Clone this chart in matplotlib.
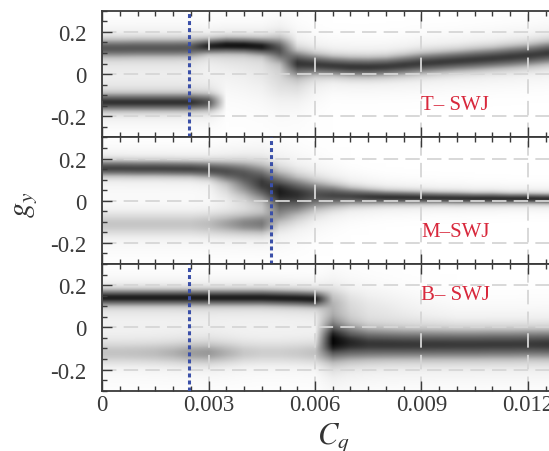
import numpy as np
import matplotlib.pyplot as plt
from matplotlib.ticker import MultipleLocator, FixedLocator, FixedFormatter

plt.rcParams['font.family'] = ['Liberation Serif', 'DejaVu Serif']
plt.rcParams['mathtext.fontset'] = 'stix'

# sampling positions along Cq (columns of the density maps)
cq = np.linspace(0, 0.013, 27)

# ---- T-SWJ branches: centre, width, strength ----
t_up_c = [0.120, 0.120, 0.121, 0.121, 0.121, 0.122, 0.130, 0.134, 0.133, 0.128, 0.115, 0.050, 0.043,
          0.036, 0.031, 0.030, 0.033, 0.040, 0.048, 0.054, 0.060, 0.066, 0.072, 0.079, 0.086, 0.096, 0.104]
t_up_w = [0.030] * 6 + [0.024, 0.024, 0.024, 0.026, 0.040, 0.040, 0.034, 0.032, 0.032, 0.032, 0.032,
                        0.033, 0.034, 0.034, 0.034, 0.035, 0.035, 0.036, 0.036, 0.037, 0.037]
t_up_a = [0.70] * 6 + [0.86, 0.88, 0.88, 0.86, 0.70, 0.75, 0.80, 0.83, 0.84, 0.84, 0.83,
                       0.83, 0.83, 0.83, 0.83, 0.83, 0.83, 0.83, 0.83, 0.83, 0.83]
t_lo_c = [-0.137] * 27
t_lo_w = [0.028] * 27
t_lo_a = [0.82] * 6 + [0.72] + [0.0] * 20
t_hz_c = [0.0] * 7 + [0.03, 0.02, 0.0, -0.03, -0.04, -0.05] + [0.0] * 14
t_hz_w = [0.08] * 27
t_hz_a = [0.09] * 7 + [0.12, 0.14, 0.16, 0.20, 0.15, 0.05] + [0.0] * 14

# ---- M-SWJ ----
m_up_c = [0.153, 0.153, 0.152, 0.152, 0.151, 0.150, 0.146, 0.140, 0.132, 0.112, 0.070, 0.045, 0.032,
          0.025, 0.020, 0.017, 0.015, 0.014, 0.013, 0.012, 0.011, 0.010, 0.010, 0.009, 0.009, 0.008, 0.008]
m_up_w = [0.026] * 6 + [0.028, 0.032, 0.038, 0.048, 0.055, 0.050, 0.044, 0.036, 0.029, 0.025, 0.022,
                        0.021, 0.020, 0.019, 0.019, 0.018, 0.018, 0.017, 0.017, 0.017, 0.017]
m_up_a = [0.80] * 6 + [0.78, 0.70, 0.60, 0.53, 0.50, 0.58, 0.68, 0.76, 0.80, 0.83, 0.85,
                       0.85, 0.85, 0.85, 0.85, 0.86, 0.86, 0.86, 0.86, 0.86, 0.86]
m_lo_c = [-0.112] * 10 + [-0.06, -0.04, -0.022, -0.01] + [0.0] * 13
m_lo_w = [0.040] * 7 + [0.038, 0.036, 0.036, 0.050, 0.050, 0.045, 0.040] + [0.03] * 13
m_lo_a = [0.34] * 6 + [0.38, 0.46, 0.54, 0.56, 0.36, 0.25, 0.14, 0.05] + [0.0] * 13
m_md_c = [0.05] * 7 + [0.07, 0.06, 0.05, 0.03, 0.02, 0.02] + [0.0] * 14
m_md_w = [0.045] * 27
m_md_a = [0.0] * 7 + [0.16, 0.34, 0.45, 0.38, 0.18, 0.0] + [0.0] * 14

# ---- B-SWJ ----
b_up_c = [0.142] * 10 + [0.140, 0.138, 0.135, 0.130, 0.120, 0.110, 0.100, 0.090, 0.080, 0.070] + [0.06] * 7
b_up_w = [0.025] * 13 + [0.045, 0.055, 0.060, 0.060, 0.060, 0.060, 0.060] + [0.060] * 7
b_up_a = [0.88] * 13 + [0.25, 0.14, 0.12, 0.10, 0.07, 0.04, 0.02] + [0.0] * 7
b_lo_c = [-0.122] * 13 + [-0.072, -0.076, -0.079, -0.080, -0.081, -0.081, -0.081,
                          -0.081, -0.081, -0.080, -0.080, -0.079, -0.079, -0.079]
b_lo_w = [0.038] * 13 + [0.058, 0.054, 0.051, 0.049, 0.048] + [0.048] * 9
b_lo_a = [0.32, 0.32, 0.33, 0.35, 0.39, 0.45, 0.47, 0.39, 0.30, 0.27, 0.27, 0.29, 0.33,
          0.78, 0.82, 0.83, 0.83, 0.83, 0.83, 0.83, 0.83, 0.83, 0.83, 0.83, 0.83, 0.84, 0.84]
b_hz_c = [0.01] * 13 + [-0.02, 0.0] + [0.0] * 12
b_hz_w = [0.08] * 27
b_hz_a = [0.08] * 13 + [0.25, 0.08] + [0.0] * 12

labels = ['T\u2013 SWJ', 'M\u2013SWJ', 'B\u2013 SWJ']
label_y = [-0.142, -0.146, 0.154]
crit_cq = [0.00245, 0.00475, 0.00245]

panels = [
    [(t_up_c, t_up_w, t_up_a), (t_lo_c, t_lo_w, t_lo_a), (t_hz_c, t_hz_w, t_hz_a)],
    [(m_up_c, m_up_w, m_up_a), (m_lo_c, m_lo_w, m_lo_a), (m_md_c, m_md_w, m_md_a)],
    [(b_up_c, b_up_w, b_up_a), (b_lo_c, b_lo_w, b_lo_a), (b_hz_c, b_hz_w, b_hz_a)],
]

gy = np.linspace(-0.3, 0.3, 241)


# each branch: core plus a soft halo around it
def density(branches):
    d = np.zeros((len(gy), len(cq)))
    for c, w, a in branches:
        c, w, a = np.array(c), np.array(w), np.array(a)
        off = gy[:, None] - c[None, :]
        core = np.exp(-0.5 * (off / w[None, :]) ** 2)
        halo = np.exp(-0.5 * (off / (2.2 * w[None, :])) ** 2)
        d += a[None, :] * (0.72 * core + 0.28 * halo)
    return np.clip(d, 0, 1)


fig = plt.figure(figsize=(5.49, 4.52), dpi=100)
left, width = 0.1858, 0.8406
top, bottom = 0.974, 0.1334
h = (top - bottom) / 3
dx = cq[1] - cq[0]

axes = []
for i in range(3):
    ax = fig.add_axes([left, top - (i + 1) * h, width, h])
    ax.imshow(density(panels[i]), origin='lower', aspect='auto', cmap='Greys', vmin=0, vmax=1.02,
              extent=[cq[0] - dx / 2, cq[-1] + dx / 2, -0.3, 0.3], interpolation='bilinear')
    ax.set_xlim(0, 0.013)
    ax.set_ylim(-0.3, 0.3)
    ax.axvline(crit_cq[i], color='#3a4fa8', lw=2.2, ls=(0, (1.3, 1.0)), zorder=3)
    ax.text(0.009, label_y[i], labels[i], color='#d8283c', fontsize=15, va='center', ha='left')

    ax.xaxis.set_major_locator(MultipleLocator(0.003))
    ax.xaxis.set_minor_locator(MultipleLocator(0.0005))
    ax.yaxis.set_major_locator(FixedLocator([-0.2, 0, 0.2]))
    ax.yaxis.set_major_formatter(FixedFormatter(['-0.2', '0', '0.2']))
    ax.yaxis.set_minor_locator(MultipleLocator(0.05))
    ax.grid(True, which='major', color='#d6d6d6', ls=(0, (8, 4)), lw=1.3)
    ax.tick_params(which='both', direction='in', top=True, bottom=True, right=False,
                   colors='#3a3a3a', labelsize=16.5, width=1.0)
    ax.tick_params(which='major', length=7)
    ax.tick_params(which='minor', length=3.5)
    ax.tick_params(axis='y', pad=11)
    ax.tick_params(axis='x', pad=2.5)
    for s in ax.spines.values():
        s.set_color('#3a3a3a')
        s.set_linewidth(1.3)
    if i < 2:
        ax.tick_params(labelbottom=False)
    else:
        ax.set_xticks([0, 0.003, 0.006, 0.009, 0.012])
        ax.set_xticklabels(['0', '0.003', '0.006', '0.009', '0.012'])
    axes.append(ax)

fig.text(0.0455, 0.5465, r'$g_y$', rotation=90, fontsize=22, va='center', ha='center', color='#333333')
fig.text(0.6066, 0.019, r'$C_q$', fontsize=22, va='baseline', ha='center', color='#333333')

fig.savefig('out.png', dpi=100)
